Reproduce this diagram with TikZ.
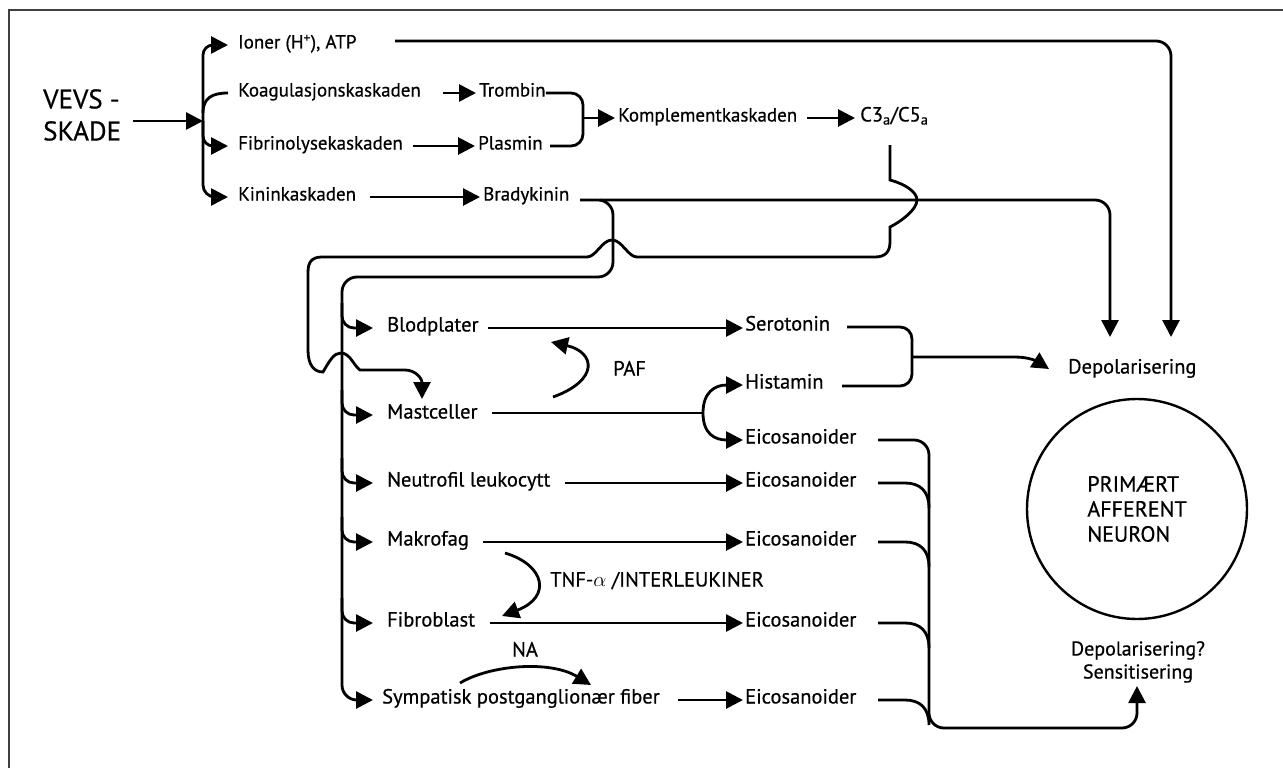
\documentclass[tikz,border=0pt]{standalone}
\usepackage{fontspec}
\setmainfont{PT Sans}[UprightFeatures={FakeBold=0.6}]
\usetikzlibrary{arrows.meta,calc}
\begin{document}
\begin{tikzpicture}[x=1pt,y=-1pt,
  ln/.style={line width=2.8pt},
  arr/.style={line width=2.8pt,-{Triangle[length=17pt,width=17pt]}},
  lbl/.style={anchor=west,inner sep=0pt,text height=0.7em,text depth=0pt,font=\fontsize{19}{21}\selectfont},
  lbb/.style={anchor=west,inner sep=0pt,text height=0.7em,text depth=0pt,font=\fontsize{20.5}{23}\selectfont}]
\useasboundingbox (0,0) rectangle (1283,768);
\draw[line width=1.6pt,black!75] (9,768) -- (9,10) -- (1283,10);
% labels
\node[anchor=north west,inner sep=0pt,align=left,font=\fontsize{27}{32}\selectfont] (vevs) at (43,89) {VEVS -\\SKADE};
\node[lbl] (ioner) at (238,45) {Ioner (H\textsuperscript{+}), ATP};
\node[lbl] (koag) at (238,93) {Koagulasjonskaskaden};
\node[lbl] (fibrin) at (238,146) {Fibrinolysekaskaden};
\node[lbl] (kinin) at (238,197) {Kininkaskaden};
\node[lbl] (trombin) at (479,93) {Trombin};
\node[lbl] (plasmin) at (478,146) {Plasmin};
\node[lbl] (kompl) at (618,118) {Komplementkaskaden};
\node[lbb] (c3) at (860,118) {C3\textsubscript{a}/C5\textsubscript{a}};
\node[lbl] (brady) at (483,197) {Bradykinin};
\node[lbb] (blod) at (387,328) {Blodplater};
\node[lbb] (mast) at (387,415) {Mastceller};
\node[lbb] (neutro) at (387,483) {Neutrofil leukocytt};
\node[lbb] (makro) at (387,542) {Makrofag};
\node[lbb] (fibro) at (387,623) {Fibroblast};
\node[lbb] (symp) at (382,700) {Sympatisk postganglionær fiber};
\node[lbb] (sero) at (745,327) {Serotonin};
\node[lbb] (hist) at (745,385) {Histamin};
\node[lbb] (eico1) at (745,440) {Eicosanoider};
\node[lbb] (eico2) at (745,483) {Eicosanoider};
\node[lbb] (eico3) at (745,542) {Eicosanoider};
\node[lbb] (eico4) at (745,623) {Eicosanoider};
\node[lbb] (eico5) at (745,700) {Eicosanoider};
\node[lbb] (depol) at (1068,370) {Depolarisering};
\node[lbb] (paf) at (613,372) {PAF};
\node[lbb] (tnf) at (550,583) {TNF-$\alpha$ /INTERLEUKINER};
\node[lbb,anchor=center] (na) at (525,653) {NA};
\node[circle,draw,line width=2.4pt,minimum size=220pt,align=left,inner sep=0pt,font=\fontsize{22}{25}\selectfont] (neuron) at (1137,509) {PRIMÆRT\\AFFERENT\\NEURON};
\node[align=center,inner sep=0pt,font=\fontsize{20}{23}\selectfont] (depol2) at (1138,662) {Depolarisering?\\Sensitisering};
% connectors
\coordinate (br) at (203,121);
\draw[arr] (133,121) -- (br);
\draw[arr,rounded corners=10pt] (br) |- (228,45);
\draw[ln] (203,113) .. controls (203,98) and (212,93) .. (228,93);
\draw[arr,rounded corners=10pt] (br) |- (228,146);
\draw[arr,rounded corners=12pt] (br) |- (228,197);
\draw[arr,rounded corners=15pt] (395,41) -| (1171,337);
\draw[arr] (443,93) -- (476,93);
\draw[ln,rounded corners=12pt] (trombin.east) -- (583,93) -- (583,146) -- (550,146);
\draw[arr] (583,118) -- (615,118);
\draw[arr] (413,146) -- (475,146);
\draw[arr] (807,118) -- (855,118);
\draw[arr] (370,197) -- (480,197);
% bradykinin
\draw[arr,rounded corners=15pt] (580,200) -- (613,200) -- (613,277) -- (342,277) -- (342,700) -- (373,700);
\draw[arr,rounded corners=15pt] (600,200) -| (1110,337);
\foreach \yy in {328,415,483,542,623}{
  \draw[arr,rounded corners=12pt] (342,\yy-25) |- (373,\yy);
}
% C3a/C5a to mastceller
\draw[arr] (890,145) -- (890,180) .. controls (905,184) and (917,192) .. (917,200)
  .. controls (917,210) and (900,222) .. (890,227) -- (890,242)
  .. controls (890,252) and (885,257) .. (875,257) -- (637,257)
  .. controls (628,257) and (622,240) .. (612,240) .. controls (602,240) and (596,257) .. (587,257)
  -- (322,257) .. controls (312,257) and (308,262) .. (308,272) -- (308,350)
  .. controls (308,365) and (314,372) .. (323,372) .. controls (330,360) and (334,353) .. (341,353)
  .. controls (350,353) and (354,366) .. (360,370) -- (405,370) .. controls (415,370) and (422,378) .. (422,399);
% cells
\draw[arr] (488,328) -- (743,328);
\draw[ln] (492,413) -- (703,413);
\draw[arr] (703,413) .. controls (703,392) and (715,385) .. (743,385);
\draw[arr] (703,413) .. controls (703,434) and (715,440) .. (743,440);
\draw[arr] (565,483) -- (743,483);
\draw[arr] (483,542) -- (743,542);
\draw[arr] (490,623) -- (743,623);
\draw[arr] (678,700) -- (743,700);
% PAF, TNF, NA
\draw[arr] (553,397) .. controls (600,380) and (595,352) .. (551,342);
\draw[arr] (505,553) .. controls (545,565) and (552,597) .. (502,616);
\draw[arr] (460,683) .. controls (490,665) and (550,660) .. (591,685);
% serotonin / histamin
\draw[ln,rounded corners=12pt] (847,327) -- (912,327) -- (912,386) -- (842,386);
\draw[arr] (912,357) -- (1015,357) .. controls (1030,357) and (1038,362) .. (1049,369);
% eicosanoider
\draw[arr,rounded corners=15pt] (878,440) -- (929,440) -- (929,728) -- (1137,728) -- (1137,686);
\foreach \yy in {483,542,623,700}{
  \draw[ln] (878,\yy) -- (905,\yy) .. controls (920,\yy) and (929,\yy+8) .. (929,\yy+25);
}
\end{tikzpicture}
\end{document}
